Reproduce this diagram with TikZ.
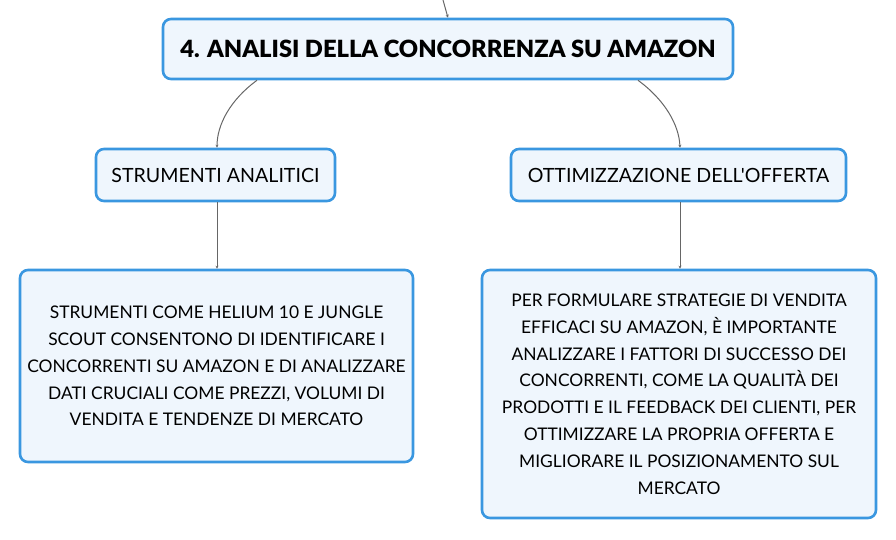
\documentclass[tikz,border=0pt]{standalone}
\usepackage{fontspec}
\setmainfont{Lato}[Ligatures=TeXOff]
\newfontfamily\heavyfont{Lato Black}[Ligatures=TeXOff]
\usetikzlibrary{arrows.meta}
\definecolor{bord}{HTML}{3A97E0}
\definecolor{fillc}{HTML}{EFF6FD}
\definecolor{conn}{HTML}{666666}
\tikzset{
  box/.style={draw=bord, fill=fillc, line width=2.6pt, rounded corners=8pt, align=center, inner sep=0pt, text=black},
  link/.style={draw=conn, line width=1pt, -{Stealth[length=3pt,width=3pt]}}
}
\begin{document}
\begin{tikzpicture}[x=1pt,y=-1pt]
\useasboundingbox (0,0) rectangle (896,540);
\node[box, minimum width=570pt, minimum height=60pt, font=\fontsize{23.7}{28}\heavyfont] (top) at (448,49) {4. ANALISI DELLA CONCORRENZA SU AMAZON};
\node[box, minimum width=239pt, minimum height=52pt, font=\fontsize{19.6}{23}\selectfont] (c1) at (215.5,175) {STRUMENTI ANALITICI};
\node[box, minimum width=335pt, minimum height=52pt, font=\fontsize{19.6}{23}\selectfont] (c2) at (678.5,175) {OTTIMIZZAZIONE DELL'OFFERTA};
\node[box, minimum width=393pt, minimum height=192pt, font=\fontsize{17.4}{26.8}\selectfont] (b1) at (216.5,366) {STRUMENTI COME HELIUM 10 E JUNGLE\\SCOUT CONSENTONO DI IDENTIFICARE I\\CONCORRENTI SU AMAZON E DI ANALIZZARE\\DATI CRUCIALI COME PREZZI, VOLUMI DI\\VENDITA E TENDENZE DI MERCATO};
\node[box, minimum width=394pt, minimum height=248pt, font=\fontsize{17.4}{26.8}\selectfont] (b2) at (679,394) {PER FORMULARE STRATEGIE DI VENDITA\\EFFICACI SU AMAZON, È IMPORTANTE\\ANALIZZARE I FATTORI DI SUCCESSO DEI\\CONCORRENTI, COME LA QUALITÀ DEI\\PRODOTTI E IL FEEDBACK DEI CLIENTI, PER\\OTTIMIZZARE LA PROPRIA OFFERTA E\\MIGLIORARE IL POSIZIONAMENTO SUL\\MERCATO};
\coordinate (in) at (443,0);
\draw[link] (in) .. controls (445,8) .. (top.north);
\draw[link] ([xshift=-191pt]top.south) .. controls (230,100) and (217,125) .. (c1.north -| 217,0);
\draw[link] ([xshift=190pt]top.south) .. controls (665,100) and (679,125) .. (c2.north -| 680,0);
\draw[link] (c1.south -| 217,0) -- (b1.north -| 217,0);
\draw[link] (c2.south -| 680,0) -- (b2.north -| 680,0);
\end{tikzpicture}
\end{document}
